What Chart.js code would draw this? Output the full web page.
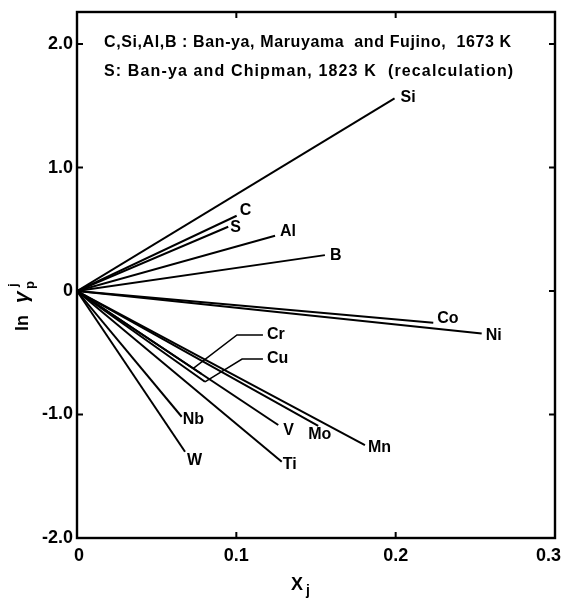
<!DOCTYPE html>
<html><head><meta charset="utf-8">
<script src="https://cdn.jsdelivr.net/npm/chart.js@4"></script>
<style>html,body{margin:0;padding:0;background:#fff}canvas{display:block}</style>
</head><body>
<canvas id="c" width="562" height="599"></canvas>
<script>
// ---- data ----
const elements = ['Si','C','S','Al','B','Co','Ni','Cr','Cu','Mn','Mo','V','Ti','Nb','W'];
const xEnd = [0.1993,0.1002,0.0949,0.1243,0.1556,0.2236,0.2540,0.0780,0.0803,0.1807,0.1514,0.1263,0.1285,0.0657,0.0678];
const yEnd = [1.560,0.610,0.521,0.448,0.291,-0.257,-0.343,-0.670,-0.735,-1.247,-1.091,-1.085,-1.382,-1.018,-1.302];
const crLeaderX = [0.0730, 0.1004, 0.1167];
const crLeaderY = [-0.626, -0.356, -0.356];
const cuLeaderX = [0.0803, 0.1036, 0.1167];
const cuLeaderY = [-0.735, -0.551, -0.551];
const xTicks = [0, 0.1, 0.2, 0.3];
const xTickLabels = ['0', '0.1', '0.2', '0.3'];
const yTicks = [-2, -1, 0, 1, 2];
const yTickLabels = ['-2.0', '-1.0', '0', '1.0', '2.0'];
const notes = ['C,Si,Al,B : Ban-ya, Maruyama  and Fujino,  1673 K', 'S: Ban-ya and Chipman, 1823 K  (recalculation)'];

// ---- styling ----
const FONT = '"Liberation Sans", Arial, sans-serif';
const labelOffset = {Si:[6,-1],C:[3,-5],S:[2,1],Al:[5,-4],B:[5,0],Co:[4,-4],Ni:[4,2],
  Cr:[4,0],Cu:[4,0],Mn:[3,3],Mo:[-10,9],V:[5,6],Ti:[1,3],Nb:[1,3],W:[2,9]};
const noteWidths = [407, 409];

const datasets = elements.map((e, i) => ({
  label: e,
  data: [{x: 0, y: 0}, {x: xEnd[i], y: yEnd[i]}],
  showLine: true, borderColor: '#000', borderWidth: 2, pointRadius: 0, fill: false
}));
datasets.push({label: 'Cr leader', data: crLeaderX.map((x, i) => ({x, y: crLeaderY[i]})),
  showLine: true, borderColor: '#000', borderWidth: 1.5, pointRadius: 0, fill: false});
datasets.push({label: 'Cu leader', data: cuLeaderX.map((x, i) => ({x, y: cuLeaderY[i]})),
  showLine: true, borderColor: '#000', borderWidth: 1.5, pointRadius: 0, fill: false});

function fitText(ctx, text, x, y, width) {
  ctx.letterSpacing = '0px';
  const w = ctx.measureText(text).width;
  const sp = (width - w) / Math.max(1, text.length - 1);
  ctx.letterSpacing = sp.toFixed(2) + 'px';
  ctx.fillText(text, x, y);
  ctx.letterSpacing = '0px';
}

const decor = {
  id: 'decor',
  afterDraw(chart) {
    const ctx = chart.ctx, a = chart.chartArea;
    const xs = chart.scales.x, ys = chart.scales.y;
    ctx.save();
    ctx.fillStyle = '#000'; ctx.strokeStyle = '#000';
    // frame
    ctx.lineWidth = 2.4;
    ctx.strokeRect(a.left, a.top, a.right - a.left, a.bottom - a.top);
    // inward ticks
    const tl = 6;
    ctx.lineWidth = 2;
    ctx.beginPath();
    yTicks.forEach(v => {
      if (v <= ys.min || v >= ys.max) return;
      const y = ys.getPixelForValue(v);
      ctx.moveTo(a.left, y); ctx.lineTo(a.left + tl, y);
      ctx.moveTo(a.right, y); ctx.lineTo(a.right - tl, y);
    });
    xTicks.forEach(v => {
      if (v <= xs.min || v >= xs.max) return;
      const x = xs.getPixelForValue(v);
      ctx.moveTo(x, a.top); ctx.lineTo(x, a.top + tl);
      ctx.moveTo(x, a.bottom); ctx.lineTo(x, a.bottom - tl);
    });
    ctx.stroke();
    // tick labels
    ctx.font = 'bold 18px ' + FONT;
    ctx.textAlign = 'right'; ctx.textBaseline = 'middle';
    yTicks.forEach((v, i) => ctx.fillText(yTickLabels[i], a.left - 4, ys.getPixelForValue(v)));
    ctx.textAlign = 'center'; ctx.textBaseline = 'top';
    xTicks.forEach((v, i) => {
      const w = ctx.measureText(xTickLabels[i]).width;
      let x = xs.getPixelForValue(v);
      x = Math.min(x, chart.width - w / 2 - 1);
      ctx.fillText(xTickLabels[i], x + (i === 0 ? 2 : 0), a.bottom + 9);
    });
    // element labels
    ctx.font = 'bold 16px ' + FONT;
    ctx.textAlign = 'left'; ctx.textBaseline = 'middle';
    elements.forEach((e, i) => {
      let px, py;
      if (e === 'Cr') { px = xs.getPixelForValue(crLeaderX[2]); py = ys.getPixelForValue(crLeaderY[2]); }
      else if (e === 'Cu') { px = xs.getPixelForValue(cuLeaderX[2]); py = ys.getPixelForValue(cuLeaderY[2]); }
      else { px = xs.getPixelForValue(xEnd[i]); py = ys.getPixelForValue(yEnd[i]); }
      const o = labelOffset[e] || [4, 0];
      ctx.fillText(e, px + o[0], py + o[1]);
    });
    // notes
    ctx.font = 'bold 16px ' + FONT;
    ctx.textBaseline = 'middle';
    fitText(ctx, notes[0], a.left + 27, a.top + 31, noteWidths[0]);
    fitText(ctx, notes[1], a.left + 27, a.top + 60, noteWidths[1]);
    // y-axis title: ln γ_p^j
    ctx.save();
    ctx.translate(28, 331);
    ctx.rotate(-Math.PI / 2);
    ctx.textAlign = 'left'; ctx.textBaseline = 'alphabetic';
    ctx.font = 'bold 18px ' + FONT;
    ctx.fillText('ln', 0, 0);
    ctx.font = 'bold italic 21px ' + FONT;
    ctx.fillText('γ', 28, 0);
    ctx.font = 'bold 13px ' + FONT;
    ctx.fillText('p', 42, 6);
    ctx.fillText('j', 44, -11);
    ctx.restore();
    // x-axis title: X_j
    ctx.textAlign = 'left'; ctx.textBaseline = 'alphabetic';
    ctx.font = 'bold 18px ' + FONT;
    ctx.fillText('X', 291, 590);
    ctx.font = 'bold 14px ' + FONT;
    ctx.fillText('j', 306, 595);
    ctx.restore();
  }
};

new Chart(document.getElementById('c'), {
  type: 'scatter',
  data: {datasets},
  options: {
    responsive: false, animation: false, devicePixelRatio: 1,
    layout: {padding: {left: 0, top: 12, right: 7, bottom: 0}},
    plugins: {legend: {display: false}, tooltip: {enabled: false}},
    scales: {
      x: {type: 'linear', min: 0, max: 0.3,
        afterBuildTicks: s => { s.ticks = xTicks.map(v => ({value: v})); },
        ticks: {display: false}, grid: {display: false}, border: {display: false},
        afterFit: s => { s.height = 61; }},
      y: {type: 'linear', min: -2, max: 2.26,
        afterBuildTicks: s => { s.ticks = yTicks.map(v => ({value: v})); },
        ticks: {display: false}, grid: {display: false}, border: {display: false},
        afterFit: s => { s.width = 77; }}
    }
  },
  plugins: [decor]
});
</script>
</body></html>
